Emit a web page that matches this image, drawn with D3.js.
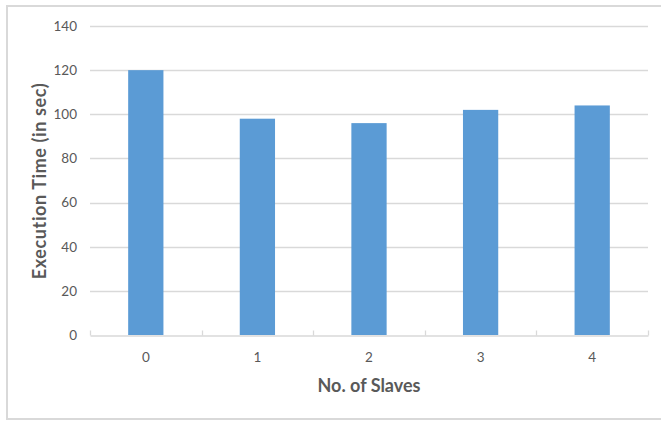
<!DOCTYPE html>
<html>
<head>
<meta charset="utf-8">
<script src="https://cdn.jsdelivr.net/npm/d3@7"></script>
<style>
  html, body { margin: 0; padding: 0; background: #fff; }
  svg { display: block; }
</style>
</head>
<body>
<svg id="chart" width="661" height="421"></svg>
<script>
// Execution time per number of slave nodes
const slaves = ["0", "1", "2", "3", "4"];
const execTime = [120, 98, 96, 102, 104];
const yTicks = [0, 20, 40, 60, 80, 100, 120, 140];

const W = 661, H = 421;
const margin = { left: 90, right: 13, top: 26, bottom: 86 };
const font = "Lato, 'Open Sans', sans-serif";
const textColor = "#595959";
const gridColor = "#d9d9d9";

const svg = d3.select("#chart");

// outer chart frame
svg.append("rect")
  .attr("x", 7).attr("y", 6)
  .attr("width", W + 4).attr("height", 413)
  .attr("fill", "#fff")
  .attr("stroke", "#d9d9d9").attr("stroke-width", 2);

const x = d3.scaleBand()
  .domain(slaves)
  .range([margin.left, W - margin.right])
  .paddingInner(0.684).paddingOuter(0.342);

const xOuter = d3.scaleBand()
  .domain(slaves)
  .range([margin.left, W - margin.right])
  .padding(0);

const y = d3.scaleLinear()
  .domain([0, 140])
  .range([H - margin.bottom, margin.top]);

// horizontal gridlines
svg.append("g")
  .selectAll("line")
  .data(yTicks.filter(d => d > 0))
  .join("line")
  .attr("x1", margin.left).attr("x2", W - margin.right)
  .attr("y1", d => Math.round(y(d)) + 0.5).attr("y2", d => Math.round(y(d)) + 0.5)
  .attr("stroke", gridColor).attr("stroke-width", 1.3);

// bars
svg.append("g")
  .selectAll("rect")
  .data(slaves.map((s, i) => ({ s, v: execTime[i] })))
  .join("rect")
  .attr("x", d => x(d.s))
  .attr("width", x.bandwidth())
  .attr("y", d => y(d.v))
  .attr("height", d => y(0) - y(d.v))
  .attr("fill", "#5b9bd5");

// category axis: baseline with upward ticks at band boundaries
const xAxis = d3.axisBottom(xOuter).tickSize(0).tickFormat("");
const gx = svg.append("g")
  .attr("transform", `translate(0,${Math.round(y(0)) + 0.5})`)
  .call(xAxis);
gx.select(".domain").attr("stroke", gridColor).attr("stroke-width", 1.3);

const bounds = slaves.map(s => xOuter(s)).concat([xOuter.range()[1]]);
gx.selectAll("line.bound")
  .data(bounds)
  .join("line")
  .attr("class", "bound")
  .attr("x1", d => Math.round(d) + 0.5).attr("x2", d => Math.round(d) + 0.5)
  .attr("y1", -5).attr("y2", 0)
  .attr("stroke", gridColor).attr("stroke-width", 1.3);

// category labels
svg.append("g")
  .selectAll("text")
  .data(slaves)
  .join("text")
  .attr("x", d => xOuter(d) + xOuter.bandwidth() / 2)
  .attr("y", 362)
  .attr("text-anchor", "middle")
  .attr("font-family", font).attr("font-size", 13.5)
  .attr("fill", textColor)
  .text(d => d);

// value axis labels
const yAxis = d3.axisLeft(y).tickValues(yTicks).tickSize(0).tickPadding(13);
const gy = svg.append("g")
  .attr("transform", `translate(${margin.left},0)`)
  .call(yAxis);
gy.select(".domain").remove();
gy.selectAll("text")
  .attr("font-family", font).attr("font-size", 13.5)
  .attr("fill", textColor);

// axis titles
svg.append("text")
  .attr("x", 369).attr("y", 392)
  .attr("text-anchor", "middle")
  .attr("font-family", font).attr("font-size", 18).attr("font-weight", "bold")
  .attr("fill", textColor)
  .text("No. of Slaves");

svg.append("text")
  .attr("transform", "translate(46,181) rotate(-90)")
  .attr("text-anchor", "middle")
  .attr("font-family", font).attr("font-size", 18).attr("font-weight", "bold")
  .attr("letter-spacing", 0.6)
  .attr("fill", textColor)
  .text("Execution Time (in sec)");
</script>
</body>
</html>
